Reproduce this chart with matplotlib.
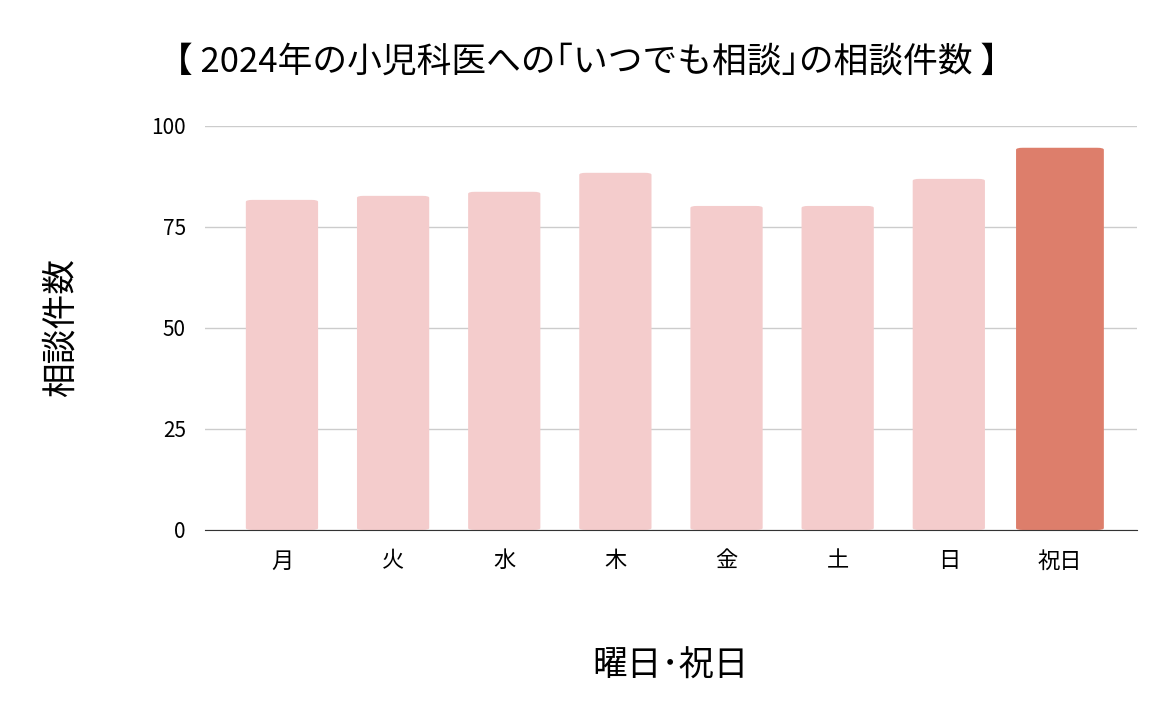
import matplotlib
matplotlib.use("Agg")
import matplotlib.pyplot as plt
from matplotlib.patches import FancyBboxPatch

plt.rcParams['font.family'] = ['Noto Sans CJK JP', 'DejaVu Sans']

categories = ['月', '火', '水', '木', '金', '土', '日', '祝日']
values = [81.7, 82.7, 83.7, 88.4, 80.2, 80.2, 86.9, 94.6]
colors = ['#f4cccc'] * 7 + ['#dd7e6b']
widths = [0.65] * 7 + [0.79]
yticks = [0, 25, 50, 75, 100]

fig = plt.figure(figsize=(11.73, 7.28), dpi=100)
ax = fig.add_axes([0.175, 0.272, 0.794, 0.555])
for i, (v, c, w) in enumerate(zip(values, colors, widths)):
    ax.add_patch(FancyBboxPatch((i - w / 2, 0), w, v, boxstyle="round,pad=0,rounding_size=0.06",
                                mutation_aspect=8, facecolor=c, edgecolor='none', zorder=2))
ax.set_xlim(-0.69, 7.69)
ax.set_ylim(0, 100)
ax.set_yticks(yticks)
ax.set_xticks(range(len(categories)))
ax.set_xticklabels(categories, fontsize=16)
ax.tick_params(axis='y', labelsize=15, length=0, pad=14)
ax.tick_params(axis='x', length=0, pad=14)
ax.grid(axis='y', color='#cccccc', linewidth=1, zorder=0)
for s in ['top', 'right', 'left']:
    ax.spines[s].set_visible(False)
ax.spines['bottom'].set_color('#333333')
ax.spines['bottom'].set_zorder(3)
ax.set_ylabel('相談件数', fontsize=25, labelpad=52)
ax.set_xlabel('曜日･祝日', fontsize=25, labelpad=55)
fig.text(0.5, 0.915, '【 2024年の小児科医への｢いつでも相談｣の相談件数 】', ha='center', va='center', fontsize=25)
fig.savefig('out.png', dpi=100)
